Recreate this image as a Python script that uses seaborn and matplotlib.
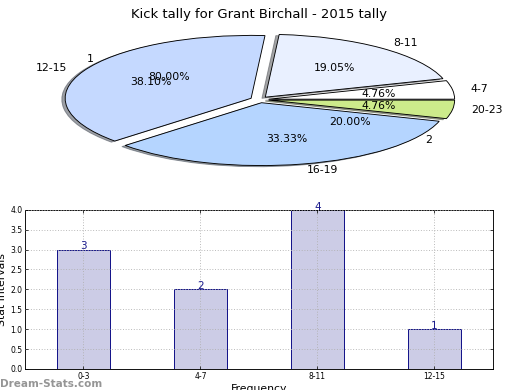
import matplotlib
matplotlib.use("Agg")
import matplotlib.pyplot as plt
import seaborn as sns

# pie data (kick counts per interval)
pie_labels = ['4-7', '8-11', '12-15', '16-19', '20-23']
pie_counts = [1, 4, 8, 7, 1]
pie_colors = ['#ffffff', '#e9f0ff', '#c5d9ff', '#b5d5ff', '#cdeb8b']

# second (hidden) pie that only leaves its labels
pie2_labels = ['1', '2']
pie2_counts = [4, 1]

# bar data
bar_labels = ['0-3', '4-7', '8-11', '12-15']
bar_counts = [3, 2, 4, 1]

fig = plt.figure(figsize=(8, 6), dpi=65)

# ===========================
# Pie chart
# ===========================
ax1 = fig.add_axes([0.052, 0.543, 0.894, 0.403])
ax1.pie(pie2_counts, labels=pie2_labels, autopct='%1.2f%%',
        colors=['none', 'none'], wedgeprops={'linewidth': 0},
        textprops={'fontsize': 12})
ax1.pie(pie_counts, labels=pie_labels, colors=pie_colors, autopct='%1.2f%%',
        explode=[0.05] * len(pie_counts), shadow=True,
        wedgeprops={'edgecolor': 'black', 'linewidth': 1},
        textprops={'fontsize': 12})
ax1.set_aspect('auto')
ax1.set_xlim(-1.25, 1.25)
ax1.set_ylim(-1.25, 1.25)
ax1.set_title('Kick tally for Grant Birchall - 2015 tally', fontsize=14.5, pad=2)

# ===========================
# Bar chart
# ===========================
ax2 = fig.add_axes([0.048, 0.054, 0.9, 0.408])
sns.barplot(x=bar_labels, y=bar_counts, width=0.45, color='#ccccE6',
            saturation=1, edgecolor='navy', linewidth=1, ax=ax2)
ax2.bar_label(ax2.containers[0], color='#1a1a8c', fontsize=11.5, padding=-2)
ax2.set_xlim(-0.5, 3.5)
ax2.set_ylim(0, 4)
ax2.set_yticks([0, 0.5, 1, 1.5, 2, 2.5, 3, 3.5, 4])
ax2.set_yticklabels(['0.0', '0.5', '1.0', '1.5', '2.0', '2.5', '3.0', '3.5', '4.0'])
ax2.grid(True, linestyle=(0, (1, 2)), color='#b0b0b0', linewidth=1)
ax2.set_axisbelow(False)
ax2.tick_params(direction='in', top=True, right=True, labelsize=8.5, length=3, pad=3)
ax2.set_xlabel('Frequency', fontsize=12)
ax2.xaxis.set_label_coords(0.5, -0.095)
ax2.set_ylabel('Stat Intervals', fontsize=12)
ax2.yaxis.set_label_coords(-0.038, 0.5)
for s in ax2.spines.values():
    s.set_linewidth(1)

fig.text(0.0, 0.008, 'Dream-Stats.com', fontsize=11.5, color='#8a8a8a',
         fontweight='bold', alpha=0.9)

fig.savefig('out.png', dpi=65)
